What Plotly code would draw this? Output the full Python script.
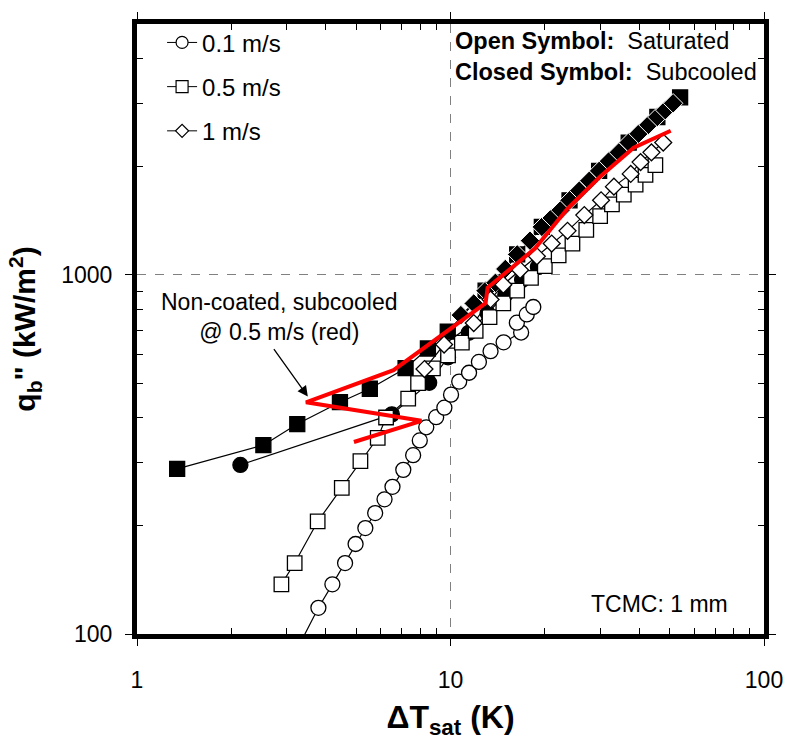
import plotly.graph_objects as go

# ---- boiling curves, TCMC 1 mm ----
# 0.1 m/s, saturated (open circles)
dt_sat_01 = [3.26, 3.79, 4.20, 4.61, 4.98, 5.35, 5.75, 6.16, 6.53, 7.07, 7.60, 7.98, 8.37,
             9.00, 9.56, 10.04, 10.66, 11.46, 12.32, 13.42, 14.77, 16.80, 16.28, 17.51, 18.37]
q_sat_01 = [91.6, 118.3, 137.5, 157.6, 178.1, 197.3, 217.2, 237.2, 257, 286.5, 314.8, 346, 376.5,
            401.7, 426.9, 464.2, 504.7, 534.1, 572.5, 613.5, 649.2, 691.3, 736.2, 776.2, 814.3]

# 0.1 m/s, subcooled (closed circles)
dt_sub_01 = [2.137, 6.50, 8.55, 9.82, 11.44, 13.13, 14.96, 16.92, 19.0]
q_sub_01 = [295.7, 409, 500.6, 589.5, 690, 782, 882, 969, 1052]

# 0.5 m/s, saturated (open squares)
dt_sat_05 = [2.888, 3.184, 3.77, 4.50, 5.16, 5.86, 6.23, 7.33, 7.88, 8.79, 9.82, 10.87, 12.03,
             13.32, 14.74, 16.32, 18.06, 19.99, 22.13, 24.49, 27.11, 30.01, 32.73, 35.71,
             38.95, 41.88, 45.03]
q_sat_05 = [137.5, 157.6, 205.8, 255.4, 303.1, 351.9, 400.9, 452.6, 499.5, 549, 597, 648, 699,
            763, 833, 904, 981, 1058, 1134, 1223, 1336, 1458, 1573, 1675, 1784, 1900, 2023]

# 0.5 m/s, subcooled (closed squares)
dt_sub_05 = [1.343, 2.53, 3.245, 4.44, 5.53, 7.19, 8.47, 9.80, 12.94, 16.32, 19.56, 23.97,
             29.79, 37.02, 45.69, 54.0]
q_sub_05 = [288.4, 335.7, 384.3, 442.2, 482, 550, 624, 695.7, 904, 1141, 1361, 1614,
            1949, 2338, 2754, 3123]

# 1 m/s, saturated (open diamonds)
dt_sat_1 = [8.26, 9.54, 11.86, 13.42, 14.74, 16.67, 18.86, 21.03, 23.62, 26.72, 30.22, 33.21,
            37.57, 40.39, 43.75, 47.71]
q_sat_1 = [547, 640, 734.6, 854.6, 939, 1032, 1127, 1223, 1327, 1468, 1614, 1762,
           1912, 2062, 2195, 2338]

# 1 m/s, subcooled (closed diamonds)
dt_sub_1 = [10.79, 11.86, 12.94, 13.91, 14.96, 16.32, 17.93, 19.56, 21.03, 22.45, 23.97, 25.76,
            27.71, 29.79, 32.02, 34.43, 37.02, 39.81, 42.8, 45.69, 48.42, 51.3]
q_sub_1 = [773, 833, 904, 951, 1039, 1141, 1246, 1361, 1441, 1515, 1614, 1718,
           1830, 1949, 2075, 2195, 2338, 2474, 2618, 2754, 2877, 3007]

# non-coated surface, subcooled, 0.5 m/s (reference curve)
dt_nc = [4.92, 8.08, 3.46, 6.58, 12.94, 13.13, 18.59, 23.67, 30.17, 38.4, 50.4]
q_nc = [342.5, 392.5, 442, 543, 835, 921, 1185, 1534, 1888, 2262, 2521]

# legend entries: velocity label and marker symbol
legend_names = ["0.1 m/s", "0.5 m/s", "1 m/s"]
legend_symbols = ["circle", "square", "diamond"]

x_ticks = [1, 10, 100]
x_ticktext = ["1", "10", "100"]
x_minor = [2, 3, 4, 5, 6, 7, 8, 9, 20, 30, 40, 50, 60, 70, 80, 90]
y_ticks = [100, 1000]
y_ticktext = ["100", "1000"]
y_minor = [200, 300, 400, 500, 600, 700, 800, 900, 2000, 3000, 4000]

FONT = "Arial, 'Liberation Sans', sans-serif"
LW = 1.2

fig = go.Figure()


def series(x, y, symbol, size, fill, edge="black", ew=1.3):
    fig.add_trace(go.Scatter(
        x=x, y=y, mode="lines+markers",
        line=dict(color="black", width=LW),
        marker=dict(symbol=symbol, size=size, color=fill,
                    line=dict(color=edge, width=ew)),
        showlegend=False, hoverinfo="skip",
    ))


series(dt_sub_01, q_sub_01, "circle", 15, "black")
series(dt_sub_05, q_sub_05, "square", 15, "black")
series(dt_sub_1, q_sub_1, "diamond", 15, "black", edge="white", ew=1)
series(dt_sat_05, q_sat_05, "square", 14.5, "white")
series(dt_sat_01, q_sat_01, "circle", 15, "white")
series(dt_sat_1, q_sat_1, "diamond", 13, "white")

fig.add_trace(go.Scatter(
    x=dt_nc, y=q_nc, mode="lines", line=dict(color="#ff0000", width=4),
    showlegend=False, hoverinfo="skip",
))

# legend-only entries (open symbols with a thin connecting line)
for i, (nm, sym) in enumerate(zip(legend_names, legend_symbols)):
    fig.add_trace(go.Scatter(
        x=[None], y=[None], mode="lines+markers", name=nm,
        line=dict(color="black", width=1),
        marker=dict(symbol=sym, size=12 if sym != "diamond" else 10, color="white",
                    line=dict(color="black", width=1.2)),
        legendgroup=nm, legendrank=i + 1, showlegend=True,
    ))

axis_common = dict(
    type="log",
    showline=True, linewidth=5, linecolor="black", mirror="ticks",
    ticks="outside", ticklen=7, tickwidth=1.3, tickcolor="black",
    showgrid=True, gridcolor="#808080", griddash="dash", gridwidth=1,
    zeroline=False,
    tickfont=dict(family=FONT, size=23, color="black"),
)

fig.update_xaxes(
    **axis_common,
    range=[0, 2],
    tickmode="array", tickvals=x_ticks, ticktext=x_ticktext,
    minor=dict(tickmode="array", tickvals=x_minor, ticks="inside", ticklen=6,
               tickwidth=1, tickcolor="black", showgrid=False),
    ticklabelstandoff=14,
    title=dict(text="<b>ΔT<sub>sat</sub> (K)</b>",
               font=dict(family=FONT, size=32, color="black"), standoff=16),
)
fig.update_yaxes(
    **axis_common,
    range=[2, 3.69897],
    tickmode="array", tickvals=y_ticks, ticktext=y_ticktext,
    minor=dict(tickmode="array", tickvals=y_minor, ticks="inside", ticklen=6,
               tickwidth=1, tickcolor="black", showgrid=False),
    ticklabelstandoff=8,
    title=dict(text="<b>q<sub>b</sub>\" (kW/m<sup>2</sup>)</b>",
               font=dict(family=FONT, size=30, color="black"), standoff=18),
)

fig.update_layout(
    width=795, height=745,
    margin=dict(l=137, r=23, t=12, b=111),
    paper_bgcolor="white", plot_bgcolor="white",
    font=dict(family=FONT, color="black"),
    showlegend=True,
    legend=dict(x=0.04, y=1.006, xanchor="left", yanchor="top",
                bgcolor="rgba(0,0,0,0)", borderwidth=0,
                font=dict(family=FONT, size=24, color="black"),
                tracegroupgap=10, itemsizing="trace"),
    annotations=[
        dict(xref="paper", yref="paper", x=0.504, y=0.946, xanchor="left", yanchor="middle",
             align="left", showarrow=False,
             text="<b>Open Symbol:</b>\u00a0\u00a0Saturated<br><b>Closed Symbol:</b>\u00a0\u00a0Subcooled",
             font=dict(family=FONT, size=23.5, color="black")),
        dict(xref="paper", yref="paper", x=0.2268, y=0.5193, xanchor="center", yanchor="middle",
             align="center", showarrow=False,
             text="Non-coated, subcooled<br>@ 0.5 m/s (red)",
             font=dict(family=FONT, size=23, color="black")),
        dict(xref="x", yref="y", x=0.5449, y=2.6612, ax=-35, ay=-49,
             text="", showarrow=True, arrowhead=2, arrowsize=1.6, arrowwidth=1.3,
             arrowcolor="black", standoff=0),
        dict(xref="paper", yref="paper", x=0.833, y=0.0498, xanchor="center", yanchor="middle",
             showarrow=False, text="TCMC: 1 mm",
             font=dict(family=FONT, size=23, color="black")),
    ],
)

fig.write_html("out.html")
